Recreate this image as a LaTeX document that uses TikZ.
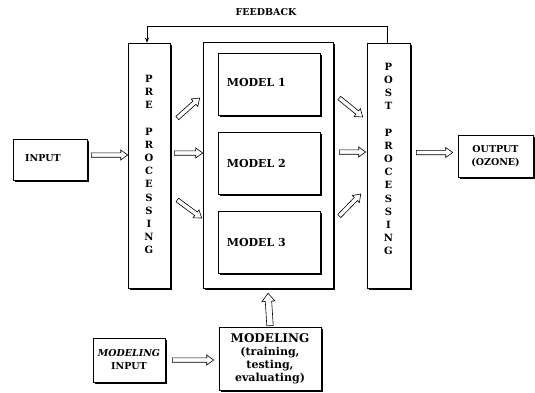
\documentclass[tikz,border=0pt]{standalone}
\usepackage{fontspec}
\setmainfont{DejaVu Serif}
\usetikzlibrary{arrows.meta,shadows,calc}
\begin{document}
\begin{tikzpicture}[x=1pt,y=-1pt,
  box/.style={draw=black, line width=0.6pt, fill=white, inner sep=0pt,
    drop shadow={shadow xshift=2.2pt, shadow yshift=-2.2pt, fill=black, opacity=1}},
  lbl/.style={font=\bfseries\fontsize{9.5}{13}\selectfont, align=center, inner sep=0pt},
  mlbl/.style={font=\bfseries\fontsize{11}{13}\selectfont, anchor=west, inner sep=0pt},
  blockarr/.style n args={3}{draw=black, line width=0.6pt, fill=white, to path={
    let \p1=(\tikztostart), \p2=(\tikztotarget),
        \n1={atan2(\y2-\y1,\x2-\x1)}, \n2={veclen(\x2-\x1,\y2-\y1)} in
    {[shift={(\p1)}, rotate=\n1]
      (0,-#1) -- (\n2-#3,-#1) -- (\n2-#3,-#2) -- (\n2,0) -- (\n2-#3,#2) -- (\n2-#3,#1) -- (0,#1) -- cycle}}},
  harrow/.style={blockarr={2.2}{5}{7}},
  hbigarrow/.style={blockarr={3.2}{6.5}{8}},
  vert/.style={font=\bfseries\fontsize{10}{13.2}\selectfont, align=center}]
\useasboundingbox (0,0) rectangle (535,392);
% main boxes
\node[box, minimum width=42pt, minimum height=245pt] (pre) at (149,165.5) {};
\node[box, minimum width=130pt, minimum height=246pt] (outer) at (268,165) {};
\node[box, minimum width=102pt, minimum height=62pt] (m1) at (269,84) {};
\node[box, minimum width=102pt, minimum height=62pt] (m2) at (269,163) {};
\node[box, minimum width=102pt, minimum height=62pt] (m3) at (269,242) {};
\node[mlbl] (m1t) at ([xshift=9pt,yshift=2pt]m1.west) {MODEL 1};
\node[mlbl] (m2t) at ([xshift=9pt]m2.west) {MODEL 2};
\node[mlbl] (m3t) at ([xshift=9pt]m3.west) {MODEL 3};
\node[box, minimum width=43pt, minimum height=245pt] (post) at (388.5,165.5) {};
\node[vert] (pretext) at ([yshift=1pt]pre.center) {P\\R\\E\\ \\P\\R\\O\\C\\E\\S\\S\\I\\N\\G};
\node[vert] (posttext) at ([yshift=6.5pt]post.center) {P\\O\\S\\T\\ \\P\\R\\O\\C\\E\\S\\S\\I\\N\\G};
\node[box, minimum width=74pt, minimum height=41pt] (input) at (50,159.5) {};
\node[lbl] (inputt) at ([xshift=-7pt,yshift=1.5pt]input.center) {INPUT};
\node[box, lbl, minimum width=75pt, minimum height=42pt] (output) at (495.5,156) {OUTPUT\\(OZONE)};
\node[box, lbl, minimum width=72pt, minimum height=44pt] (minput) at (129,360) {\itshape MODELING\\INPUT};
\node[box, minimum width=102pt, minimum height=63pt, align=center,
  font=\bfseries\fontsize{11}{13}\selectfont] (modeling) at (270,358.5)
  {\fontsize{12}{13}\selectfont MODELING\\(training,\\testing,\\evaluating)};
\node[lbl] (fb) at (266,12) {FEEDBACK};
% feedback
\draw[line width=0.6pt, -{Stealth[length=5pt,width=4pt]}] ([xshift=-1.5pt]post.north) -- ++(0,-16) -| ([xshift=-2pt]pre.north);
% hollow block arrows
\draw[harrow] ([xshift=4pt,yshift=4.5pt]input.east) to ([yshift=10.5pt]pre.west);
\draw[harrow] ([shift={(7,-47.5)}]pre.east) to ([shift={(-3,-67)}]outer.west);
\draw[harrow] ([shift={(4,-12.5)}]pre.east) to ([shift={(0,-12)}]outer.west);
\draw[harrow] ([shift={(7,34.5)}]pre.east) to ([shift={(-1,53)}]outer.west);
\draw[harrow] ([shift={(6,-67)}]outer.east) to ([shift={(-4,-48.5)}]post.west);
\draw[harrow] ([shift={(6,-13)}]outer.east) to ([shift={(-1,-13.5)}]post.west);
\draw[harrow] ([shift={(6,51)}]outer.east) to ([shift={(-6,28.5)}]post.west);
\draw[harrow] ([xshift=6pt,yshift=13pt]post.east) to ([xshift=-5pt,yshift=3.5pt]output.west);
\draw[harrow] ([xshift=7pt]minput.east) to ([xshift=-5pt,yshift=-1.5pt]modeling.west);
\draw[hbigarrow] ([yshift=1pt]modeling.north) to ([yshift=-5pt]outer.south);
\end{tikzpicture}
\end{document}
